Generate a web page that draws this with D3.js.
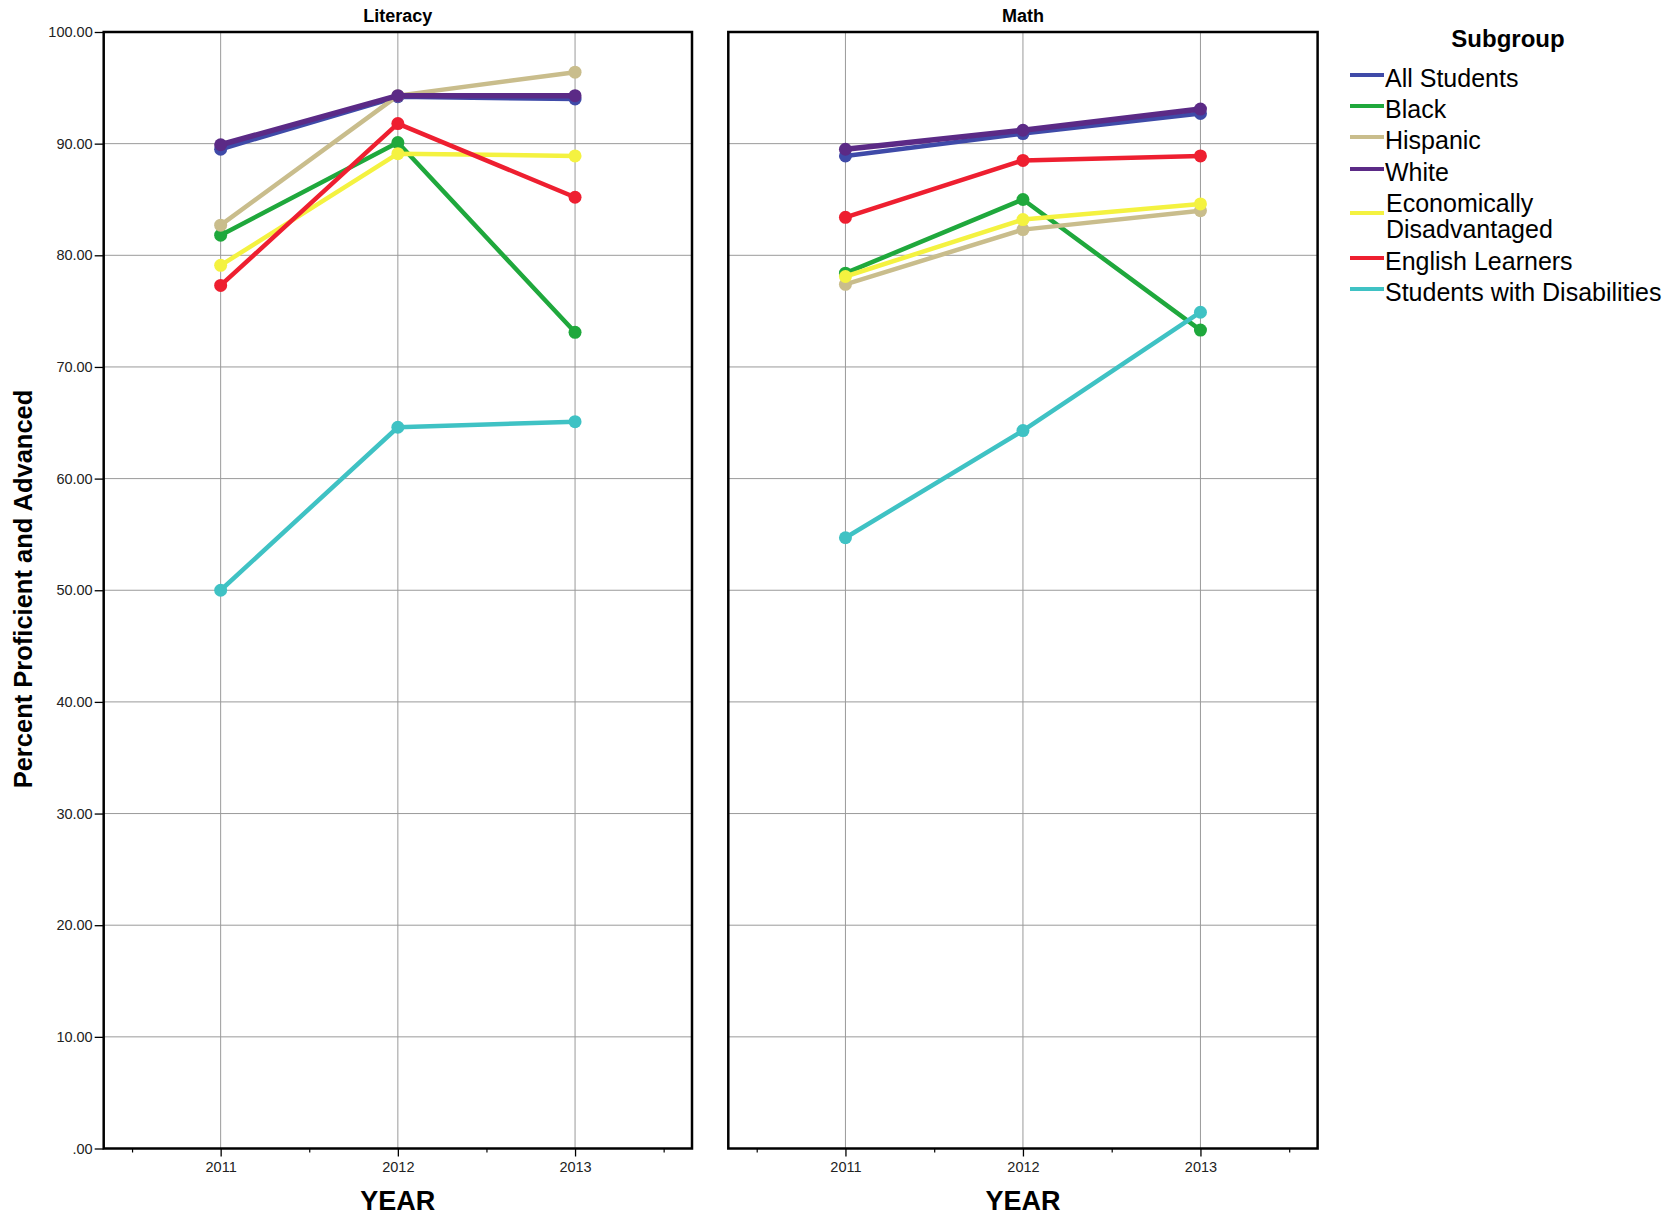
<!DOCTYPE html>
<html>
<head>
<meta charset="utf-8">
<script src="https://cdn.jsdelivr.net/npm/d3@7"></script>
<style>
  html, body { margin: 0; padding: 0; background: #ffffff; }
  svg { display: block; }
</style>
</head>
<body>
<svg id="chart" width="1677" height="1217"></svg>
<script>
// ---------- DATA ----------
const years = [2011, 2012, 2013];
const panels = ["Literacy", "Math"];
const subgroups = ["All Students", "Black", "Hispanic", "White",
  "Economically Disadvantaged", "English Learners", "Students with Disabilities"];
const colors = ["#3f4aa8", "#1fa83c", "#c9bd8c", "#5b2a86", "#f4f240", "#ee1f30", "#3fc2c4"];
const yTicks = [0, 10, 20, 30, 40, 50, 60, 70, 80, 90, 100];
const yTickLabels = [".00", "10.00", "20.00", "30.00", "40.00", "50.00", "60.00", "70.00", "80.00", "90.00", "100.00"];

// Literacy values (2011, 2012, 2013)
const litAll      = [89.5, 94.2, 94.0];
const litBlack    = [81.8, 90.1, 73.1];
const litHispanic = [82.7, 94.3, 96.4];
const litWhite    = [89.9, 94.3, 94.3];
const litEcon     = [79.1, 89.1, 88.9];
const litEL       = [77.3, 91.8, 85.2];
const litSWD      = [50.0, 64.6, 65.1];

// Math values (2011, 2012, 2013)
const mathAll      = [88.9, 90.9, 92.7];
const mathBlack    = [78.4, 85.0, 73.3];
const mathHispanic = [77.4, 82.3, 84.0];
const mathWhite    = [89.5, 91.2, 93.1];
const mathEcon     = [78.1, 83.2, 84.6];
const mathEL       = [83.4, 88.5, 88.9];
const mathSWD      = [54.7, 64.3, 74.9];

const panelData = {
  "Literacy": [litAll, litBlack, litHispanic, litWhite, litEcon, litEL, litSWD],
  "Math": [mathAll, mathBlack, mathHispanic, mathWhite, mathEcon, mathEL, mathSWD]
};

// ---------- LAYOUT ----------
const svg = d3.select("#chart");
const plotTop = 32, plotBottom = 1148.5;
const panelX = [[103.7, 692], [728.3, 1317.6]];
const y = d3.scaleLinear().domain([0, 100]).range([plotBottom, plotTop]);
const sansFont = "'Liberation Sans', Arial, sans-serif";
const narrowFont = "'Liberation Sans Narrow', 'Liberation Sans', Arial, sans-serif";

// draw order: White on top of All Students
const drawOrder = [0, 1, 2, 4, 5, 6, 3];

panels.forEach((pname, pi) => {
  const [x0, x1] = panelX[pi];
  const x = d3.scaleLinear().domain([2010.34, 2013.66]).range([x0, x1]);
  const g = svg.append("g");

  // gridlines
  g.selectAll(".hgrid").data(yTicks.filter(t => t > 0 && t < 100)).enter()
    .append("line")
    .attr("x1", x0).attr("x2", x1)
    .attr("y1", d => y(d)).attr("y2", d => y(d))
    .attr("stroke", "#9a9a9a").attr("stroke-width", 1);
  g.selectAll(".vgrid").data(years).enter()
    .append("line")
    .attr("x1", d => x(d)).attr("x2", d => x(d))
    .attr("y1", plotTop).attr("y2", plotBottom)
    .attr("stroke", "#9a9a9a").attr("stroke-width", 1);

  // x axis major ticks + labels
  const xAxis = d3.axisBottom(x).tickValues(years).tickFormat(d3.format("d"))
    .tickSize(8).tickSizeOuter(0).tickPadding(5);
  const xg = g.append("g").attr("transform", `translate(0,${plotBottom})`).call(xAxis);
  xg.select(".domain").remove();
  xg.selectAll("line").attr("stroke", "#000").attr("stroke-width", 1.3);
  xg.selectAll("text").attr("font-family", sansFont).attr("font-size", 14.5).attr("fill", "#222");

  // minor ticks
  const minorAxis = d3.axisBottom(x).tickValues([2010.5, 2011.5, 2012.5, 2013.5])
    .tickFormat("").tickSize(4).tickSizeOuter(0);
  const mg = g.append("g").attr("transform", `translate(0,${plotBottom})`).call(minorAxis);
  mg.select(".domain").remove();
  mg.selectAll("line").attr("stroke", "#000").attr("stroke-width", 1.2);

  // y axis (left panel only has labels)
  if (pi === 0) {
    const yAxis = d3.axisLeft(y).tickValues(yTicks)
      .tickFormat((d, i) => yTickLabels[i]).tickSize(9).tickSizeOuter(0).tickPadding(2);
    const yg = g.append("g").attr("transform", `translate(${x0},0)`).call(yAxis);
    yg.select(".domain").remove();
    yg.selectAll("line").attr("stroke", "#000").attr("stroke-width", 1.3);
    yg.selectAll("text").attr("font-family", sansFont).attr("font-size", 14.5).attr("fill", "#222");
  }

  // lines and points
  const line = d3.line().x((d, i) => x(years[i])).y(d => y(d));
  drawOrder.forEach(si => {
    const vals = panelData[pname][si];
    g.append("path").datum(vals)
      .attr("d", line)
      .attr("fill", "none")
      .attr("stroke", colors[si])
      .attr("stroke-width", si === 3 ? 5.5 : 4.5)
      .attr("stroke-linejoin", "round")
      .attr("stroke-linecap", "round");
    g.selectAll(null).data(vals).enter().append("circle")
      .attr("cx", (d, i) => x(years[i]))
      .attr("cy", d => y(d))
      .attr("r", 6.5)
      .attr("fill", colors[si]);
  });

  // frame
  g.append("rect")
    .attr("x", x0).attr("y", plotTop)
    .attr("width", x1 - x0).attr("height", plotBottom - plotTop)
    .attr("fill", "none").attr("stroke", "#000").attr("stroke-width", 2.5);

  // panel title
  g.append("text")
    .attr("x", (x0 + x1) / 2).attr("y", 22)
    .attr("text-anchor", "middle")
    .attr("font-family", narrowFont).attr("font-weight", "bold").attr("font-size", 18)
    .attr("fill", "#000")
    .text(pname);

  // x axis title
  g.append("text")
    .attr("x", (x0 + x1) / 2).attr("y", 1210)
    .attr("text-anchor", "middle")
    .attr("font-family", narrowFont).attr("font-weight", "bold").attr("font-size", 27)
    .attr("fill", "#000")
    .text("YEAR");
});

// y axis title
svg.append("text")
  .attr("transform", "translate(32,589) rotate(-90)")
  .attr("text-anchor", "middle")
  .attr("font-family", sansFont).attr("font-weight", "bold").attr("font-size", 25.5)
  .attr("fill", "#000")
  .text("Percent Proficient and Advanced");

// ---------- LEGEND ----------
const lg = svg.append("g");
lg.append("text")
  .attr("x", 1508).attr("y", 47)
  .attr("text-anchor", "middle")
  .attr("font-family", sansFont).attr("font-weight", "bold").attr("font-size", 24)
  .attr("fill", "#000")
  .text("Subgroup");

const legendLabels = [["All Students"], ["Black"], ["Hispanic"], ["White"],
  ["Economically", "Disadvantaged"], ["English Learners"], ["Students with Disabilities"]];
const legendY = [78, 109, 140, 172, 216, 261, 292];
subgroups.forEach((s, i) => {
  const cy = legendY[i];
  lg.append("line")
    .attr("x1", 1350).attr("x2", 1384)
    .attr("y1", cy - 3).attr("y2", cy - 3)
    .attr("stroke", colors[i]).attr("stroke-width", 4);
  const lines = legendLabels[i];
  const t = lg.append("text")
    .attr("font-family", sansFont).attr("font-size", 25).attr("fill", "#000");
  if (lines.length === 1) {
    t.append("tspan").attr("x", 1385).attr("y", cy + 9).text(lines[0]);
  } else {
    t.append("tspan").attr("x", 1386).attr("y", cy - 4).text(lines[0]);
    t.append("tspan").attr("x", 1386).attr("y", cy + 22).text(lines[1]);
  }
});
</script>
</body>
</html>
